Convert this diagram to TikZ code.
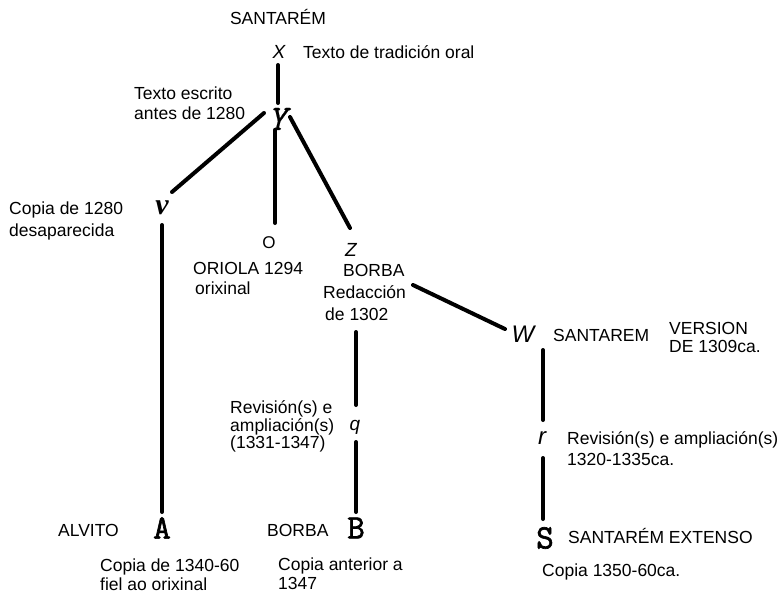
\documentclass[tikz,border=0pt]{standalone}
\usepackage{fontspec}
\setmainfont{Liberation Sans}
\newfontfamily\lmmono{Latin Modern Mono}[FakeBold=0.6]
\newfontfamily\lmmonob{Latin Modern Mono}[FakeBold=2]
\newfontfamily\lserif{Liberation Serif}
\begin{document}
\begin{tikzpicture}[x=1pt,y=-1pt,
  txt/.style={inner sep=0pt,font=\fontsize{17.5}{20}\selectfont,text height=12.5pt,text depth=0pt,anchor=west},
  mtxt/.style={inner sep=0pt,font=\fontsize{17.5}{20}\selectfont,align=left,anchor=north west},
  sit/.style={inner sep=0pt,font=\fontsize{#1}{#1}\selectfont\itshape},
  monoit/.style={inner sep=0pt,font=\fontsize{#1}{#1}\selectfont\lmmono\itshape},
  serbi/.style={inner sep=0pt,font=\fontsize{#1}{#1}\selectfont\lserif\bfseries\itshape},
  monob/.style={inner sep=0pt,font=\fontsize{#1}{#1}\selectfont\lmmonob},
  edge/.style={line width=4pt,line cap=round}]
\useasboundingbox[fill=white] (0,0) rectangle (784,594);

% letters
\node[sit=19] (X) at (279,52) {X};
\node[monoit=36] (Y) at (277,119) {Y};
\node[serbi=30] (v) at (162,208) {v};
\node[inner sep=0pt,font=\fontsize{17}{17}\selectfont] (O) at (269,243) {O};
\node[sit=19] (Z) at (351,250) {Z};
\node[sit=24] (W) at (523,334) {W};
\node[sit=19] (q) at (355,427) {q};
\node[sit=24] (r) at (542,438) {r};
\node[monob=34] (A) at (162,528) {A};
\node[monob=34] (B) at (356,528) {B};
\node[monob=34] (S) at (545,538) {S};

% labels
\node[txt,anchor=center] (tsant) at (278,18) {SANTARÉM};
\node[txt] (toral) at (303,52) {Texto de tradición oral};
\node[mtxt] (tesc) at (134,86.7) {Texto escrito\\antes de 1280};
\node[mtxt,font=\fontsize{17.5}{22}\selectfont] (tcop) at (9,201.7) {Copia de 1280\\desaparecida};
\node[mtxt] (tori) at (193,261.7) {ORIOLA 1294\\\hspace*{2pt}orixinal};
\node[mtxt,font=\fontsize{17.5}{22}\selectfont] (tborz) at (323,263.7) {\hspace*{20pt}BORBA\\Redacción\\\hspace*{2pt}de 1302};
\node[txt] (tsw) at (553,335) {SANTAREM};
\node[mtxt,font=\fontsize{17.5}{18}\selectfont] (tver) at (669,321.7) {VERSION\\DE 1309ca.};
\node[mtxt,font=\fontsize{17.5}{17.5}\selectfont] (trevq) at (230,400.7) {Revisión(s) e\\ampliación(s)\\(1331-1347)};
\node[mtxt,font=\fontsize{17.5}{21}\selectfont] (trevr) at (567,431.7) {Revisión(s) e ampliación(s)\\1320-1335ca.};
\node[txt] (talv) at (58,530) {ALVITO};
\node[mtxt,font=\fontsize{17.5}{19.5}\selectfont] (tcopa) at (100,558.5) {Copia de 1340-60\\fiel ao orixinal};
\node[txt] (tborb) at (267,530) {BORBA};
\node[mtxt,font=\fontsize{17.5}{19.5}\selectfont] (tcopb) at (278,557.5) {Copia anterior a\\1347};
\node[txt] (text) at (568,537) {SANTARÉM EXTENSO};
\node[txt] (tcops) at (542,570) {Copia 1350-60ca.};

% connectors
\draw[edge] ([shift={(-1,13)}]X.center) -- ([shift={(1,-16)}]Y.center);
\draw[edge] ([shift={(-13,-6)}]Y.center) -- ([shift={(10,-16)}]v.center);
\draw[edge] ([shift={(-2,11)}]Y.center) -- ([shift={(6,-20)}]O.center);
\draw[edge] ([shift={(13,-2)}]Y.center) -- ([shift={(-1,-22)}]Z.center);
\draw[edge] ([shift={(0,17)}]v.center) -- ([shift={(0,-16)}]A.center);
\draw[edge] ([shift={(62,35)}]Z.center) -- ([shift={(-18,-5)}]W.center);
\draw[edge] ([shift={(5,82)}]Z.center) -- ([shift={(1,-22)}]q.center);
\draw[edge] ([shift={(1,15)}]q.center) -- ([shift={(0,-16)}]B.center);
\draw[edge] ([shift={(20,16)}]W.center) -- ([shift={(1,-18)}]r.center);
\draw[edge] ([shift={(1,20)}]r.center) -- ([shift={(-2,-19)}]S.center);
\end{tikzpicture}
\end{document}
